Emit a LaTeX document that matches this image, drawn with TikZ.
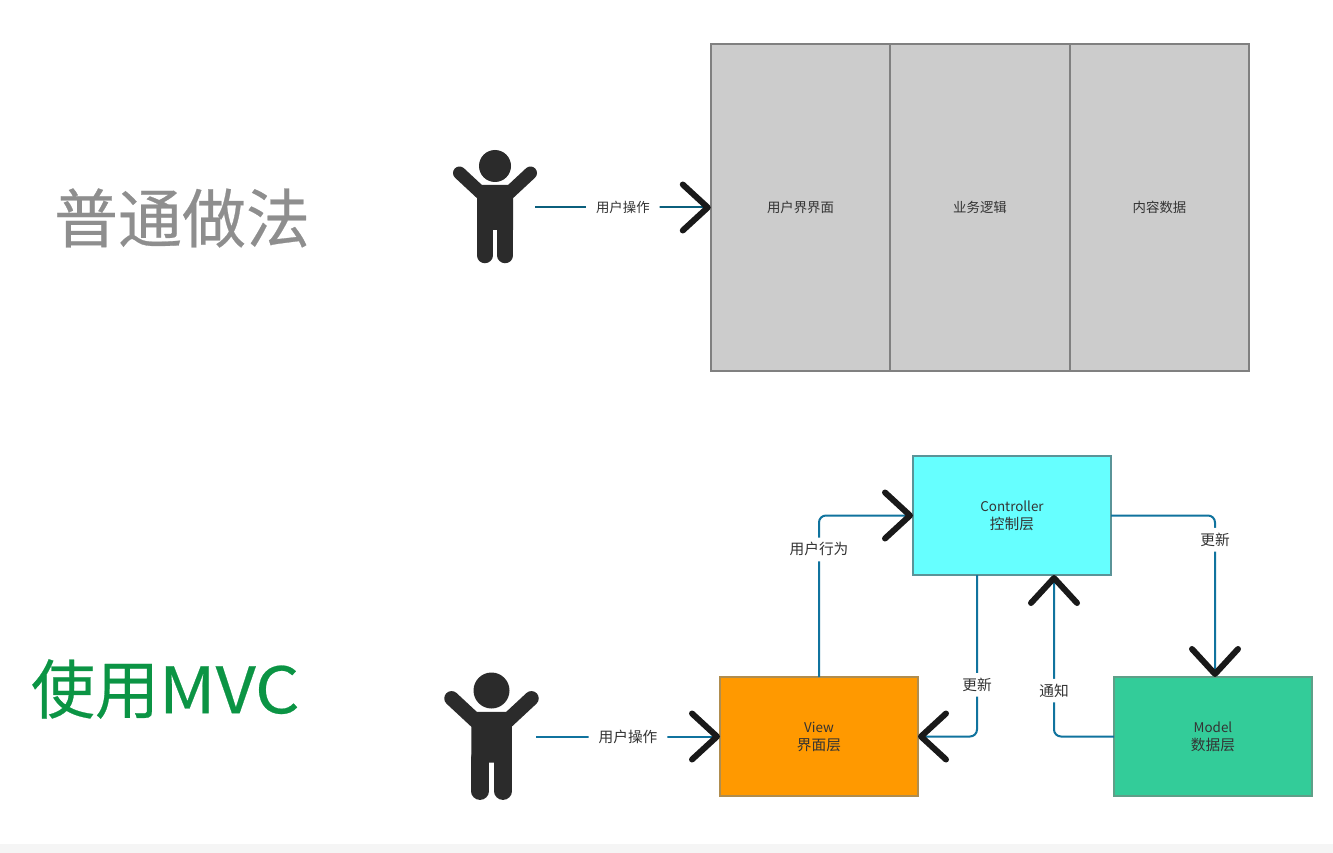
\documentclass[tikz,border=0pt]{standalone}
\usepackage{fontspec}
\setmainfont{Noto Sans CJK SC}
\newfontfamily\titlefont[FakeBold=0.4]{Noto Sans CJK SC}
\newfontfamily\titlewide[FakeBold=0.4,FakeStretch=1.09]{Noto Sans CJK SC}
\usetikzlibrary{arrows.meta}
\definecolor{flow}{HTML}{10739E}
\definecolor{flowdark}{HTML}{0B5F7C}
\definecolor{figure}{HTML}{2B2B2B}
\definecolor{ink}{HTML}{333333}
\definecolor{titlegrey}{HTML}{8E8E8E}
\definecolor{titlegreen}{HTML}{0B9444}
\definecolor{viewfill}{HTML}{FF9900}
\definecolor{viewedge}{HTML}{B08D4E}
\definecolor{ctrlfill}{HTML}{66FFFF}
\definecolor{ctrledge}{HTML}{5A9498}
\definecolor{modelfill}{HTML}{33CC99}
\definecolor{modeledge}{HTML}{5F9F88}
\newcommand{\cjklarge}{\fontsize{14.7pt}{18pt}\selectfont}
\tikzset{
  x=1pt,y=-1pt,
  every node/.style={inner sep=0pt,outer sep=0pt,font=\fontsize{13.4pt}{18pt}\selectfont,text=ink},
  bigtip/.style={-{Straight Barb[length=25pt,width=46pt,line width=6pt,color=black!90,round]}},
  flowline/.style={draw=#1,line width=2pt,bigtip,rounded corners=7pt},
  flowline/.default=flow,
  lab/.style={fill=white,inner xsep=10pt,inner ysep=5pt},
  vlab/.style={lab,inner xsep=3pt,font=\cjklarge},
  plainbox/.style={draw=black!50,line width=1.7pt,fill=black!20,minimum width=179.5pt,minimum height=327pt},
  layerbox/.style={line width=1.6pt,minimum width=198pt,minimum height=119pt,align=center},
  bigtitle/.style={font=\fontsize{64pt}{70pt}\selectfont,anchor=west},
  pics/person/.style={code={
    \begin{scope}[scale=#1]
      \fill[figure] (0,0) circle (16);
      \draw[figure,line width=#1*13pt,line cap=round] (-35.5,7) -- (-14,27);
      \draw[figure,line width=#1*13pt,line cap=round] (35.5,7) -- (14,27);
      \fill[figure] (-15,19) -- (15,19) -- (18,31) -- (18,64) -- (-18,64) -- (-18,31) -- cycle;
      \draw[figure,line width=#1*15.5pt,line cap=round] (-10.2,60) -- (-10.2,89.5);
      \draw[figure,line width=#1*15.5pt,line cap=round] (10.2,60) -- (10.2,89.5);
    \end{scope}
  }}
}
\begin{document}
\begin{tikzpicture}
  \useasboundingbox (0,0) rectangle (1333,853);
  \fill[white] (0,0) rectangle (1333,853);
  \fill[black!4] (0,844) rectangle (1333,853);

  % Section titles
  \node[bigtitle,text=titlegrey] (plainTitle) at (54,218) {\titlefont 普通做法};
  \node[bigtitle,text=titlegreen] (mvcTitle) at (31,689) {\titlefont 使用\titlewide MVC};

  % Upper row: one block with three regions
  \node[plainbox] (ui) at (800.5,207.5) {用户界界面};
  \node[plainbox] (logic) at (980,207.5) {业务逻辑};
  \node[plainbox] (data) at (1159.5,207.5) {内容数据};

  \pic at (495,166) {person=1};
  \coordinate (user1) at (535,207.5);
  \draw[flowline=flowdark] (user1) -- node[lab] (act1) {用户操作} (ui.west);

  % Lower row: the three MVC layers
  \node[layerbox,draw=viewedge,fill=viewfill] (view) at (819,736.5) {View\\{\cjklarge 界面层}};
  \node[layerbox,draw=ctrledge,fill=ctrlfill] (ctrl) at (1012,515.5) {Controller\\{\cjklarge 控制层}};
  \node[layerbox,draw=modeledge,fill=modelfill] (model) at (1213,736.5) {Model\\{\cjklarge 数据层}};

  \pic at (491.5,690.5) {person=1.125};
  \coordinate (user2) at (536,736.5);
  \draw[flowline] (user2) -- node[lab,pos=.5,font=\cjklarge] (act2) {用户操作} (view.west);

  \draw[flowline] (view.north) |- node[vlab,pos=.395] (behave) {用户行为} (ctrl.west);
  \draw[flowline] (ctrl.east) -| node[vlab,pos=.575] (upd1) {更新} ([xshift=2pt]model.north);
  \draw[flowline] ([xshift=-35pt]ctrl.south) |- node[vlab,pos=.34] (upd2) {更新} (view.east);
  \draw[flowline] (model.west) -| node[vlab,pos=.642] (notify) {通知} ([xshift=42pt]ctrl.south);
\end{tikzpicture}
\end{document}
